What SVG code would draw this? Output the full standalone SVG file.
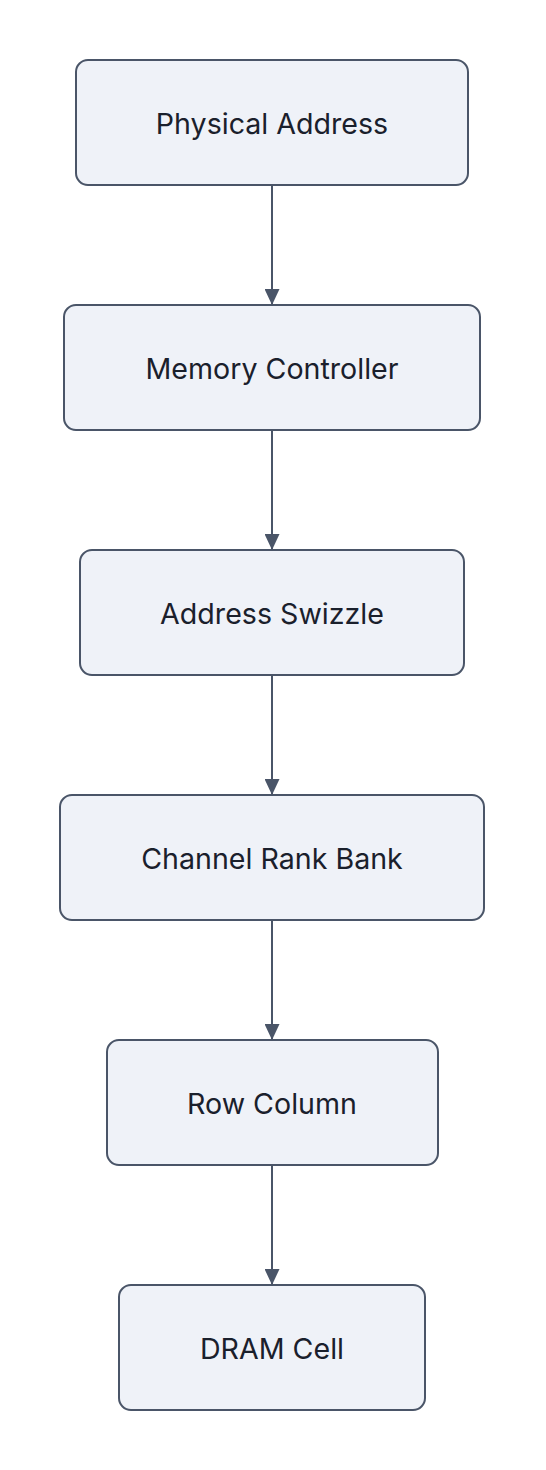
<svg xmlns="http://www.w3.org/2000/svg" width="546" height="1470" viewBox="0 0 546 1470">
<defs>
<style>
.node rect{fill:#eff2f8;stroke:#4a5568;stroke-width:2}
.node text{font-family:Inter,"Noto Sans","Liberation Sans",sans-serif;font-size:28.6px;fill:#1a202c;text-anchor:middle;dominant-baseline:central}
.edge{stroke:#4a5568;stroke-width:2;fill:none;marker-end:url(#arr)}
</style>
<marker id="arr" viewBox="0 0 16 15" refX="16" refY="7.5" markerWidth="16" markerHeight="15" markerUnits="userSpaceOnUse" orient="auto">
<path d="M0,0 L16,7.5 L0,15 Z" fill="#4a5568"/>
</marker>
</defs>
<rect width="546" height="1470" fill="#ffffff"/>
<g id="connectors">
<line class="edge" x1="272" y1="185" x2="272" y2="305"/>
<line class="edge" x1="272" y1="430" x2="272" y2="550"/>
<line class="edge" x1="272" y1="675" x2="272" y2="795"/>
<line class="edge" x1="272" y1="920" x2="272" y2="1040"/>
<line class="edge" x1="272" y1="1165" x2="272" y2="1285"/>
</g>
<g id="physical-address" class="node"><rect x="76" y="60" width="392" height="125" rx="12"/><text x="272" y="123">Physical Address</text></g>
<g id="memory-controller" class="node"><rect x="64" y="305" width="416" height="125" rx="12"/><text x="272" y="368">Memory Controller</text></g>
<g id="address-swizzle" class="node"><rect x="80" y="550" width="384" height="125" rx="12"/><text x="272" y="613">Address Swizzle</text></g>
<g id="channel-rank-bank" class="node"><rect x="60" y="795" width="424" height="125" rx="12"/><text x="272" y="858">Channel Rank Bank</text></g>
<g id="row-column" class="node"><rect x="107" y="1040" width="331" height="125" rx="12"/><text x="272" y="1103">Row Column</text></g>
<g id="dram-cell" class="node"><rect x="119" y="1285" width="306" height="125" rx="12"/><text x="272" y="1348">DRAM Cell</text></g>
</svg>
